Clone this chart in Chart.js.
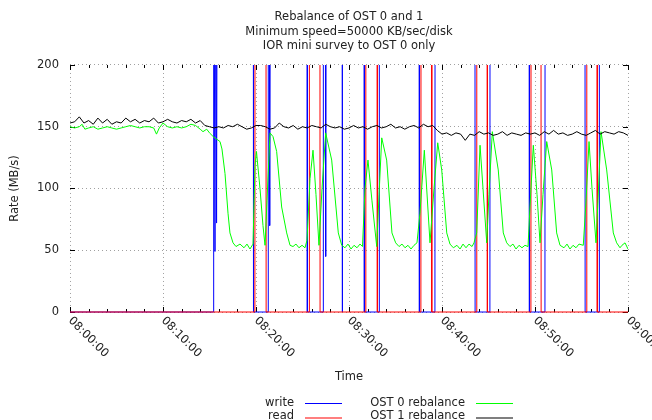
<!DOCTYPE html>
<html>
<head>
<meta charset="utf-8">
<script src="https://cdn.jsdelivr.net/npm/chart.js@4.4.1/dist/chart.umd.min.js"></script>
<style>
  html, body { margin: 0; padding: 0; background: #fff; overflow: hidden; }
  canvas { display: block; }
</style>
</head>
<body>
<canvas id="chart" width="652" height="420"></canvas>
<script>
// x values are minutes after 08:00:00, y values are MB/s
const T = 400; // write / read bursts run off the top of the plot

const titleLines = ["Rebalance of OST 0 and 1", "Minimum speed=50000 KB/sec/disk", "IOR mini survey to OST 0 only"];
const timeTicks = [0, 10, 20, 30, 40, 50, 60];
const timeLabels = ["08:00:00", "08:10:00", "08:20:00", "08:30:00", "08:40:00", "08:50:00", "09:00:00"];
const rateTicks = [0, 50, 100, 150, 200];

const writeRate = [
  [0, 0], [15.40, 0], [15.42, T], [15.48, T], [15.59, 49], [15.68, T], [15.76, 72], [15.85, T],
  [19.71, T], [19.73, 0], [21.30, 0], [21.32, T], [21.40, T], [21.47, 70], [21.55, T],
  [25.50, T], [25.52, 0], [27.22, 0], [27.24, T], [27.44, T], [27.49, 45], [27.54, T],
  [29.26, T], [29.28, 0], [29.30, T], [31.63, T], [31.65, 0], [33.24, 0], [33.26, T],
  [37.55, T], [37.57, 0], [39.24, 0], [39.26, T], [43.54, T], [43.56, 0], [45.15, 0], [45.17, T],
  [49.38, T], [49.40, 0], [51.07, 0], [51.09, T], [55.37, T], [55.39, 0], [56.90, 0], [56.92, T],
  [60, T]
];

const readRate = [
  [0, 0], [19.88, 0], [19.90, T], [21.07, T], [21.09, 0],
  [25.72, 0], [25.74, T], [26.87, T], [26.89, 0],
  [31.79, 0], [31.81, T], [33.03, T], [33.05, 0],
  [37.73, 0], [37.75, T], [38.88, T], [38.90, 0],
  [43.72, 0], [43.74, T], [44.86, T], [44.88, 0],
  [49.56, 0], [49.58, T], [50.64, T], [50.66, 0],
  [55.55, 0], [55.57, T], [56.68, T], [56.70, 0],
  [60, 0]
];

const ost0Rate = [
  [0, 150], [0.5, 149], [1, 150], [1.3, 152], [1.6, 148], [2, 149], [2.5, 150], [3, 148], [3.5, 149],
  [4, 150], [4.5, 149], [5, 148], [5.5, 149], [6, 150], [6.5, 151], [7, 150], [7.5, 149], [8, 150],
  [8.5, 150], [9, 149], [9.3, 144], [9.6, 149], [10, 153], [10.5, 150], [11, 149], [11.5, 150],
  [12, 149], [12.5, 150], [13, 152], [13.5, 151], [14, 148], [14.3, 146], [14.7, 148], [15, 145],
  [15.4, 142], [16.13, 138], [16.34, 132], [16.67, 112], [16.99, 80], [17.2, 64], [17.53, 56],
  [17.85, 53], [18.28, 55], [18.71, 52], [19.03, 55], [19.35, 51], [19.68, 55], [19.89, 118],
  [20.05, 130], [20.43, 100], [20.75, 70], [20.97, 54], [21.18, 90], [21.51, 145], [21.83, 142],
  [22.22, 130], [22.76, 85], [23.3, 64], [23.66, 54], [23.98, 53], [24.3, 55], [24.62, 52],
  [24.95, 54], [25.27, 52], [25.48, 58], [25.81, 108], [26.13, 131], [26.45, 95], [26.77, 54],
  [27.1, 100], [27.49, 145], [28.14, 123], [28.85, 64], [29.22, 54], [29.57, 52], [29.89, 55],
  [30.22, 51], [30.54, 54], [30.86, 52], [31.18, 55], [31.45, 53], [31.72, 100], [32.04, 123],
  [32.47, 90], [32.98, 53], [33.23, 95], [33.52, 141], [34.05, 123], [34.62, 64], [35.02, 56],
  [35.38, 53], [35.7, 55], [36.02, 52], [36.34, 54], [36.67, 51], [36.99, 54], [37.31, 56],
  [37.63, 80], [38.1, 131], [38.71, 56], [39.14, 100], [39.54, 137], [39.97, 115], [40.51, 64],
  [40.86, 55], [41.22, 52], [41.61, 54], [41.94, 51], [42.26, 55], [42.58, 52], [42.9, 55],
  [43.23, 53], [43.44, 56], [43.73, 64], [44.09, 135], [44.41, 100], [44.81, 56], [45.05, 95],
  [45.41, 146], [46.05, 115], [46.59, 64], [46.96, 56], [47.31, 53], [47.63, 55], [47.96, 51],
  [48.28, 54], [48.6, 52], [48.92, 54], [49.25, 53], [49.46, 85], [49.82, 135], [50.22, 95],
  [50.54, 56], [50.86, 95], [51.26, 138], [51.8, 115], [52.33, 64], [52.69, 54], [53.12, 52],
  [53.44, 55], [53.76, 51], [54.09, 54], [54.41, 52], [54.73, 55], [55.19, 54], [55.45, 85],
  [55.81, 138], [56.13, 100], [56.56, 56], [56.77, 90], [57.1, 146], [57.71, 115], [58.42, 64],
  [58.78, 56], [59.14, 52], [59.35, 54], [59.68, 56], [60, 51]
];

// OST 1 sampled every half minute from 08:00:00
const ost1Step = 0.5;
const ost1Rate = [
  153, 154, 158, 153, 155, 152, 157, 153, 156, 152,
  154, 153, 157, 154, 156, 153, 155, 154, 157, 153,
  154, 156, 154, 153, 155, 154, 156, 153, 155, 151,
  150, 149, 150, 149, 151, 150, 152, 150, 148, 149,
  151, 151, 150, 148, 149, 153, 150, 149, 151, 148,
  150, 149, 151, 150, 149, 152, 150, 149, 150, 148,
  149, 151, 149, 150, 148, 150, 151, 149, 150, 152,
  149, 150, 148, 150, 151, 149, 152, 150, 151, 147,
  144, 145, 143, 145, 144, 139, 144, 143, 146, 144,
  145, 143, 144, 146, 143, 145, 144, 143, 145, 144,
  145, 143, 146, 144, 147, 144, 145, 143, 144, 146,
  144, 143, 145, 147, 144, 146, 145, 144, 146, 145,
  143
];

const FONT = "11.5px 'DejaVu Sans'";
const TEXT = "#222";
const GRID = "#a0a0a0";

Chart.defaults.font.family = "'DejaVu Sans'";
Chart.defaults.font.size = 11.5;
Chart.defaults.color = TEXT;

function pairs(list) {
  return list.map(function (p) { return { x: p[0], y: p[1] }; });
}

let legendItems = [
  { label: "write", color: "#0000ff", col: 0, row: 0 },
  { label: "read", color: "#ff0000", col: 0, row: 1 },
  { label: "OST 0 rebalance", color: "#00ff00", col: 1, row: 0 },
  { label: "OST 1 rebalance", color: "#000000", col: 1, row: 1 },
];

// gnuplot style extras: inward tick marks, slanted time labels, key at the bottom
const gnuplotBits = {
  id: "gnuplotBits",
  beforeDatasetsDraw(chart) {
    const { ctx, chartArea: a, scales } = chart;
    const x = scales.x, y = scales.y;
    ctx.save();
    ctx.strokeStyle = "#000";
    ctx.lineWidth = 1;
    ctx.beginPath();
    for (let m = 0; m <= 60; m += 2) {
      const px = Math.round(x.getPixelForValue(m)) + 0.5;
      const len = m % 10 === 0 ? 5 : 3;
      ctx.moveTo(px, a.bottom); ctx.lineTo(px, a.bottom - len);
      ctx.moveTo(px, a.top); ctx.lineTo(px, a.top + len);
    }
    rateTicks.forEach(function (v) {
      const py = Math.round(y.getPixelForValue(v)) + 0.5;
      ctx.moveTo(a.left, py); ctx.lineTo(a.left + 5, py);
      ctx.moveTo(a.right, py); ctx.lineTo(a.right - 5, py);
    });
    ctx.stroke();
    ctx.restore();
  },
  afterDraw(chart) {
    const { ctx, chartArea: a, scales } = chart;
    const x = scales.x;
    ctx.save();
    ctx.font = FONT;
    ctx.fillStyle = TEXT;
    ctx.textAlign = "left";
    ctx.textBaseline = "middle";
    for (let i = 0; i < timeTicks.length; i++) {
      ctx.save();
      ctx.translate(x.getPixelForValue(timeTicks[i]), a.bottom + 7);
      ctx.rotate(Math.PI / 4);
      ctx.fillText(timeLabels[i], 0, 0);
      ctx.restore();
    }

    // key: text right aligned, sample line after it
    const colRight = [a.left + 224, a.left + 395];
    const rowY = [a.bottom + 91, a.bottom + 104.5];
    ctx.textAlign = "right";
    legendItems.forEach(function (item) {
      const tx = colRight[item.col];
      const ty = rowY[item.row];
      ctx.fillStyle = TEXT;
      ctx.fillText(item.label, tx, ty);
      ctx.fillStyle = item.color;
      if (item.row === 0) {
        ctx.fillRect(tx + 11, Math.round(ty), 37, 1);
      } else {
        // second row sits half a pixel off, so it shows soft and two pixels tall
        ctx.globalAlpha = 0.5;
        ctx.fillRect(tx + 11, Math.round(ty), 37, 2);
        ctx.globalAlpha = 1;
      }
    });
    ctx.restore();
  }
};

function lineSet(label, data, color, order) {
  return {
    label: label,
    data: data,
    borderColor: color,
    backgroundColor: color,
    borderWidth: 1,
    pointRadius: 0,
    tension: 0,
    fill: false,
    order: order,
    clip: { left: 0, top: 0, right: 0, bottom: 2 },
  };
}

const ctx = document.getElementById("chart").getContext("2d");

new Chart(ctx, {
  type: "line",
  data: {
    datasets: [
      lineSet("write", pairs(writeRate), "#0000ff", 3),
      lineSet("read", pairs(readRate), "#ff0000", 2),
      lineSet("OST 0 rebalance", pairs(ost0Rate), "#00ff00", 1),
      lineSet("OST 1 rebalance", ost1Rate.map(function (v, i) { return { x: i * ost1Step, y: v }; }), "#000000", 0),
    ],
  },
  options: {
    responsive: false,
    animation: false,
    events: [],
    layout: { padding: { left: 0, right: 24, top: 0, bottom: 0 } },
    plugins: {
      legend: { display: false },
      tooltip: { enabled: false },
      title: {
        display: true,
        text: titleLines,
        fullSize: false,
        color: TEXT,
        font: { size: 11.5, weight: "normal", lineHeight: 1.26 },
        padding: { top: 10, bottom: 11.5 },
      },
    },
    scales: {
      x: {
        type: "linear",
        min: 0,
        max: 60,
        ticks: { display: false, stepSize: 10 },
        grid: { color: GRID, drawTicks: false, borderDash: [1, 3] },
        border: { display: false, dash: [1, 3] },
        title: { display: true, text: "Time", color: TEXT, padding: { top: 0, bottom: 36 } },
        afterFit: function (scale) { scale.height = 108; },
      },
      y: {
        min: 0,
        max: 200,
        ticks: { stepSize: 50, padding: 11, color: TEXT },
        grid: { color: GRID, drawTicks: false, borderDash: [1, 3] },
        border: { display: false, dash: [1, 3] },
        title: { display: true, text: "Rate (MB/s)", color: TEXT, padding: { top: 8, bottom: 0 } },
        afterFit: function (scale) { scale.width = 70; },
      },
    },
  },
  plugins: [gnuplotBits],
});
</script>
</body>
</html>
